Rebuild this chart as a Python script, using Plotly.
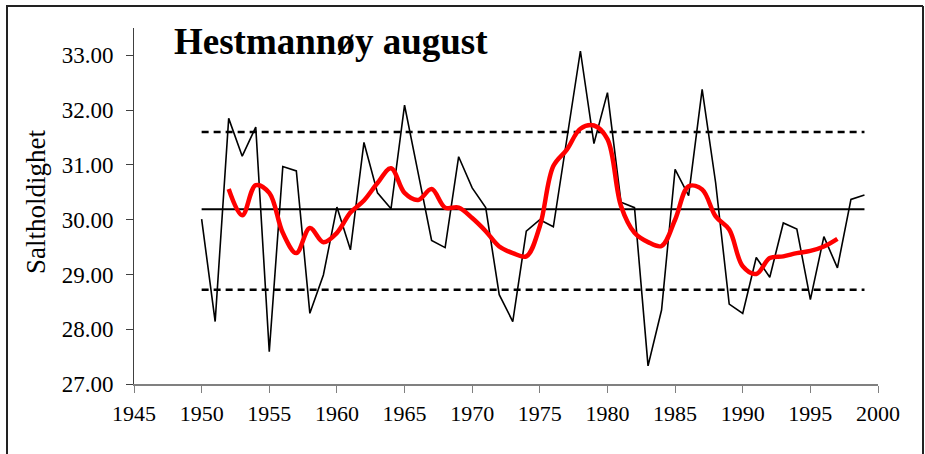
import plotly.graph_objects as go

years = list(range(1950, 2000))
salinity = [30.01, 28.14, 31.85, 31.16, 31.69, 27.59, 30.97, 30.89, 28.29, 28.99,
            30.23, 29.45, 31.41, 30.49, 30.20, 32.09, 30.86, 29.62, 29.49, 31.15,
            30.58, 30.22, 28.63, 28.14, 29.79, 30.00, 29.87, 31.48, 33.08, 31.39,
            32.32, 30.32, 30.22, 27.33, 28.35, 30.92, 30.44, 32.38, 30.67, 28.46,
            28.29, 29.31, 28.95, 29.94, 29.83, 28.54, 29.69, 29.12, 30.37, 30.45]

smooth_years = list(range(1952, 1998))
smooth_vals = [30.56, 30.08, 30.63, 30.49, 29.76, 29.39, 29.85, 29.59, 29.76, 30.13,
               30.35, 30.67, 30.94, 30.49, 30.36, 30.56, 30.22, 30.22, 30.03, 29.79,
               29.51, 29.39, 29.33, 29.88, 30.98, 31.28, 31.66, 31.72, 31.47, 30.25,
               29.76, 29.59, 29.52, 30.00, 30.61, 30.55, 30.06, 29.82, 29.15, 29.01,
               29.30, 29.33, 29.39, 29.43, 29.51, 29.65]

mean_level = 30.19
upper_level = 31.60
lower_level = 28.72
line_span = [1950, 1999]

x_ticks = list(range(1945, 2001, 5))
y_ticks = [27, 28, 29, 30, 31, 32, 33]

FONT = "Liberation Serif"

fig = go.Figure()
fig.add_trace(go.Scatter(x=line_span, y=[upper_level] * 2, mode="lines",
                         line=dict(color="black", width=2.5, dash="7px,5px"),
                         hoverinfo="skip"))
fig.add_trace(go.Scatter(x=line_span, y=[lower_level] * 2, mode="lines",
                         line=dict(color="black", width=2.5, dash="7px,5px"),
                         hoverinfo="skip"))
fig.add_trace(go.Scatter(x=line_span, y=[mean_level] * 2, mode="lines",
                         line=dict(color="black", width=2), hoverinfo="skip"))
fig.add_trace(go.Scatter(x=years, y=salinity, mode="lines",
                         line=dict(color="black", width=1.6)))
fig.add_trace(go.Scatter(x=smooth_years, y=smooth_vals, mode="lines",
                         line=dict(color="#ff0000", width=4.5, shape="spline", smoothing=1.0)))

L, R, T, B = 134, 47, 28, 70
W, H = 925, 454
pw, ph = W - L - R, H - T - B


def px_x(p):
    return (p - L) / pw


def px_y(p):
    return (H - B - p) / ph


fig.update_layout(
    width=W, height=H,
    margin=dict(l=L, r=R, t=T, b=B, pad=0),
    paper_bgcolor="white", plot_bgcolor="white",
    showlegend=False,
    font=dict(family=FONT, color="black"),
    xaxis=dict(range=[1945, 2000], tickvals=x_ticks, ticktext=[str(v) for v in x_ticks],
               showgrid=False, zeroline=False, showline=True, linecolor="#808080", linewidth=2,
               ticks="outside", ticklen=7, tickcolor="#808080", tickwidth=1,
               tickfont=dict(family=FONT, size=22, color="black"), ticklabelstandoff=2),
    yaxis=dict(range=[27, 33.5], tickvals=y_ticks, ticktext=[f"{v:.2f}" for v in y_ticks],
               showgrid=False, zeroline=False, showline=True, linecolor="#404040", linewidth=1,
               ticks="outside", ticklen=7, tickcolor="#404040", tickwidth=1,
               tickfont=dict(family=FONT, size=23, color="black"), ticklabelstandoff=8),
    annotations=[
        dict(text="<b>Hestmannøy august</b>", xref="paper", yref="paper",
             x=px_x(172), y=px_y(42), xanchor="left", yanchor="middle", showarrow=False,
             font=dict(family=FONT, size=37, color="black")),
        dict(text="Saltholdighet", xref="paper", yref="paper", textangle=-90,
             x=px_x(36), y=px_y(202), xanchor="center", yanchor="middle", showarrow=False,
             font=dict(family=FONT, size=27, color="black")),
    ],
    shapes=[
        dict(type="line", xref="paper", yref="paper", x0=px_x(7), x1=px_x(7),
             y0=px_y(6), y1=px_y(470), line=dict(color="#222222", width=2)),
        dict(type="line", xref="paper", yref="paper", x0=px_x(6), x1=px_x(923),
             y0=px_y(6), y1=px_y(6), line=dict(color="#222222", width=2)),
        dict(type="line", xref="paper", yref="paper", x0=px_x(923), x1=px_x(923),
             y0=px_y(6), y1=px_y(470), line=dict(color="#222222", width=2)),
    ],
)

fig.write_html("out.html", config={"displayModeBar": False},
               post_script="document.body.style.margin='0px';document.body.style.overflow='hidden';")
